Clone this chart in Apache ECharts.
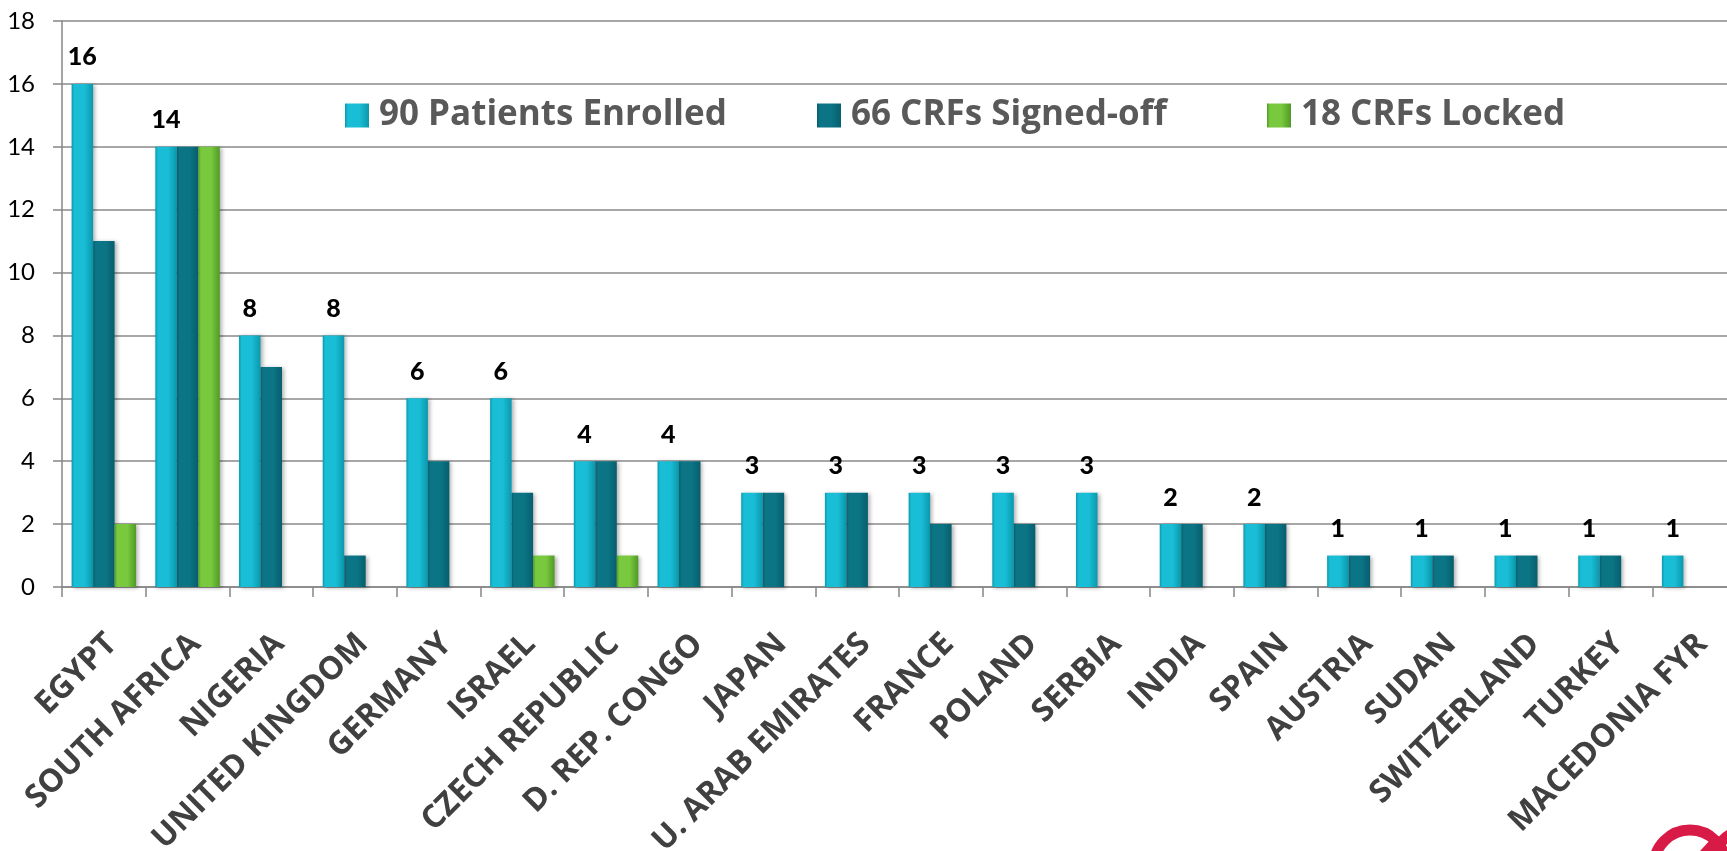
<!DOCTYPE html>
<html>
<head>
<meta charset="utf-8">
<script src="https://cdn.jsdelivr.net/npm/echarts@6/dist/echarts.min.js"></script>
<style>
html,body{margin:0;padding:0;background:#fff;}
#chart{width:1727px;height:851px;}
</style>
</head>
<body>
<div id="chart"></div>
<script>
const categories = ['EGYPT','SOUTH AFRICA','NIGERIA','UNITED KINGDOM','GERMANY','ISRAEL','CZECH REPUBLIC','D. REP. CONGO','JAPAN','U. ARAB EMIRATES','FRANCE','POLAND','SERBIA','INDIA','SPAIN','AUSTRIA','SUDAN','SWITZERLAND','TURKEY','MACEDONIA FYR'];
const enrolled = [16,14,8,8,6,6,4,4,3,3,3,3,3,2,2,1,1,1,1,1];
const signedOff = [11,14,7,1,4,3,4,4,3,3,2,2,0,2,2,1,1,1,1,0];
const locked = [2,14,0,0,0,1,1,0,0,0,0,0,0,0,0,0,0,0,0,0];
const seriesNames = ['90 Patients Enrolled','66 CRFs Signed-off','18 CRFs Locked'];
const yTicks = {min:0, max:18, interval:2};

function grad(edge, mid){
  return new echarts.graphic.LinearGradient(0,0,1,0,[
    {offset:0,color:edge},{offset:0.12,color:mid},{offset:0.6,color:mid},{offset:1,color:edge}
  ]);
}
const styles = [
  grad('#0a98ad','#19bdd5'),
  grad('#075e6d','#0b7485'),
  grad('#4f9a26','#79c93e')
];
const nz = a => a.map(v => v === 0 ? null : v);

const chart = echarts.init(document.getElementById('chart'), null, {renderer:'canvas'});
const shadow = {shadowBlur:4, shadowOffsetX:2, shadowOffsetY:1, shadowColor:'rgba(0,0,0,0.3)'};
const legendBase = {
  top: 98, padding: 0, itemWidth: 24, itemHeight: 24, itemGap: 0,
  icon: 'rect',
  textStyle: {fontFamily:'Open Sans', fontWeight:'bold', fontSize:35, color:'#595959', padding:[0,0,0,5]},
  selectedMode:false
};
const axisGray = {color:'#868686', width:1.5};
chart.setOption({
  backgroundColor:'#fff',
  animation:false,
  legend:[
    Object.assign({}, legendBase, {left:345, data:[seriesNames[0]]}),
    Object.assign({}, legendBase, {left:817, data:[seriesNames[1]]}),
    Object.assign({}, legendBase, {left:1267, data:[seriesNames[2]]})
  ],
  grid:[
    {left:62, right:-9, top:21, bottom:264, containLabel:false, outerBoundsMode:'none'},
    {left:70, right:-17, top:21, bottom:264, containLabel:false, outerBoundsMode:'none'}
  ],
  xAxis:[
    {
      type:'category', data:categories, gridIndex:0,
      axisLine:{show:true, lineStyle:axisGray},
      axisTick:{show:true, interval:0, alignWithLabel:false, length:10, lineStyle:axisGray},
      axisLabel:{show:false, interval:0}
    },
    {
      type:'category', data:categories, gridIndex:1,
      axisLine:{show:false}, axisTick:{show:false}, splitLine:{show:false},
      axisLabel:{interval:0, rotate:45, margin:52, fontFamily:'Open Sans', fontWeight:'bold', fontSize:32, color:'#404040'}
    }
  ],
  yAxis:[
    {
      type:'value', gridIndex:0, min:yTicks.min, max:yTicks.max, interval:yTicks.interval,
      axisLine:{show:true, lineStyle:axisGray},
      axisTick:{show:true, length:9, lineStyle:axisGray},
      splitLine:{show:true, lineStyle:{color:'#8a8a8a', width:1.5}},
      axisLabel:{margin:27, fontFamily:'Lato', fontSize:24, color:'#000'}
    },
    {
      type:'value', gridIndex:1, min:yTicks.min, max:yTicks.max, interval:yTicks.interval,
      show:false
    }
  ],
  series:[
    {name:seriesNames[0], type:'bar', data:nz(enrolled), barGap:'0%', barCategoryGap:'23%',
      itemStyle:Object.assign({color:styles[0]}, shadow),
      label:{show:true, position:'top', distance:14, fontFamily:'Lato', fontWeight:900, fontSize:25, color:'#000'}},
    {name:seriesNames[1], type:'bar', data:nz(signedOff), barGap:'0%', barCategoryGap:'23%',
      itemStyle:Object.assign({color:styles[1]}, shadow)},
    {name:seriesNames[2], type:'bar', data:nz(locked), barGap:'0%', barCategoryGap:'23%',
      itemStyle:Object.assign({color:styles[2]}, shadow)}
  ],
  graphic:[
    {type:'arc', shape:{cx:1690, cy:866, r:36, startAngle:Math.PI, endAngle:Math.PI*2}, style:{stroke:'#d81b46', lineWidth:11, fill:null}},
    {type:'arc', shape:{cx:1748, cy:866, r:36, startAngle:Math.PI, endAngle:Math.PI*2}, style:{stroke:'#d81b46', lineWidth:11, fill:null}},
    {type:'polygon', shape:{points:[[1700,851],[1712,838],[1724,851]]}, style:{fill:'#d81b46'}}
  ]
});
</script>
</body>
</html>
